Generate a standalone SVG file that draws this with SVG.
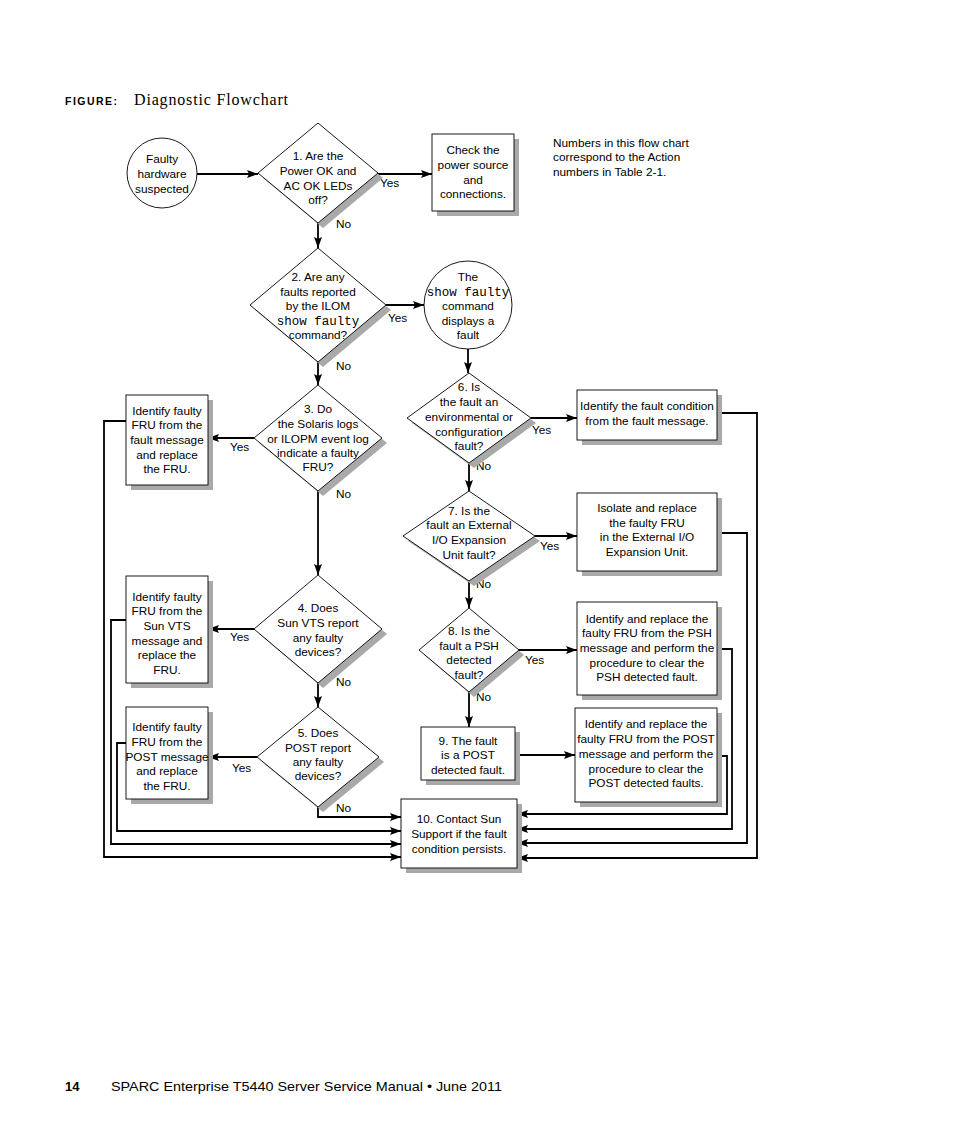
<svg xmlns="http://www.w3.org/2000/svg" width="954" height="1145" viewBox="0 0 954 1145">
<style>
.bg{fill:#fff}
.n{fill:#fff;stroke:#000;stroke-width:0.9}
.sh{fill:#a9a9a9}
.t{font-family:"Liberation Sans",Arial,sans-serif;font-size:11.8px;text-anchor:middle;fill:#000}
.m{font-family:"Liberation Mono","Courier New",monospace;font-size:12.5px}
.l{font-family:"Liberation Sans",Arial,sans-serif;font-size:11.8px;fill:#000}
.c{fill:none;stroke:#000;stroke-width:1.8}
</style>
<defs>
<marker id="ah" markerUnits="userSpaceOnUse" markerWidth="11" markerHeight="8" refX="11" refY="4" orient="auto">
<path d="M0,0 L11,4 L0,8 L2,4 z" fill="#000"/>
</marker>
</defs>
<rect class="bg" x="0" y="0" width="954" height="1145"/>

<g id="title">
<text x="65" y="105" font-family="'Liberation Sans',Arial,sans-serif" font-size="10.5" font-weight="bold" textLength="52" lengthAdjust="spacing">FIGURE:</text>
<text x="134" y="105" font-family="'Liberation Serif','Times New Roman',serif" font-size="16" textLength="154" lengthAdjust="spacing">Diagnostic Flowchart</text>
</g>

<g id="note">
<text class="l" x="553" y="147">Numbers in this flow chart</text>
<text class="l" x="553" y="161">correspond to the Action</text>
<text class="l" x="553" y="176">numbers in Table 2-1.</text>
</g>

<g id="connectors">
<path class="c" marker-end="url(#ah)" d="M197,174 H258"/>
<path class="c" marker-end="url(#ah)" d="M378,174 H432"/>
<path class="c" marker-end="url(#ah)" d="M318,223 V248"/>
<path class="c" marker-end="url(#ah)" d="M386,305 H424"/>
<path class="c" marker-end="url(#ah)" d="M318,362 V385"/>
<path class="c" marker-end="url(#ah)" d="M468,349 V373"/>
<path class="c" marker-end="url(#ah)" d="M254,438 H208"/>
<path class="c" marker-end="url(#ah)" d="M318,491 V575"/>
<path class="c" marker-end="url(#ah)" d="M254,629 H208"/>
<path class="c" marker-end="url(#ah)" d="M318,683 V707"/>
<path class="c" marker-end="url(#ah)" d="M257,757 H208"/>
<path class="c" marker-end="url(#ah)" d="M318,807 V817 H401"/>
<path class="c" marker-end="url(#ah)" d="M126,743 H117 V831 H401"/>
<path class="c" marker-end="url(#ah)" d="M126,620 H111 V844 H401"/>
<path class="c" marker-end="url(#ah)" d="M126,421 H104 V857 H401"/>
<path class="c" marker-end="url(#ah)" d="M531,418 H577"/>
<path class="c" marker-end="url(#ah)" d="M469,463 V491"/>
<path class="c" marker-end="url(#ah)" d="M535,536 H577"/>
<path class="c" marker-end="url(#ah)" d="M469,581 V608"/>
<path class="c" marker-end="url(#ah)" d="M519,650 H577"/>
<path class="c" marker-end="url(#ah)" d="M469,692 V727"/>
<path class="c" marker-end="url(#ah)" d="M515,755 H575"/>
<path class="c" marker-end="url(#ah)" d="M717,756 H727 V814 H517"/>
<path class="c" marker-end="url(#ah)" d="M717,649 H732 V829 H517"/>
<path class="c" marker-end="url(#ah)" d="M717,533 H747 V843 H517"/>
<path class="c" marker-end="url(#ah)" d="M717,413 H757 V858 H517"/>
</g>

<g id="labels">
<text class="l" x="380" y="187">Yes</text>
<text class="l" x="336" y="228">No</text>
<text class="l" x="388" y="322">Yes</text>
<text class="l" x="336" y="370">No</text>
<text class="l" x="230" y="451">Yes</text>
<text class="l" x="336" y="498">No</text>
<text class="l" x="230" y="641">Yes</text>
<text class="l" x="336" y="686">No</text>
<text class="l" x="232" y="772">Yes</text>
<text class="l" x="336" y="812">No</text>
<text class="l" x="532" y="434">Yes</text>
<text class="l" x="476" y="470">No</text>
<text class="l" x="540" y="550">Yes</text>
<text class="l" x="476" y="588">No</text>
<text class="l" x="525" y="664">Yes</text>
<text class="l" x="476" y="701">No</text>
</g>

<g id="start">
<circle class="n" cx="162" cy="173" r="35"/>
<text class="t" x="162" y="162.5">Faulty</text>
<text class="t" x="162" y="177.5">hardware</text>
<text class="t" x="162" y="192.5">suspected</text>
</g>

<g id="d1">
<polygon class="sh" points="323,128 383,178 323,228 263,178"/>
<polygon class="n" points="318,123 378,173 318,223 258,173"/>
<text class="t" x="318" y="160">1. Are the</text>
<text class="t" x="318" y="175">Power OK and</text>
<text class="t" x="318" y="190">AC OK LEDs</text>
<text class="t" x="318" y="204">off?</text>
</g>

<g id="b1">
<rect class="sh" x="437" y="139" width="82" height="77"/>
<rect class="n" x="432" y="134" width="82" height="77"/>
<text class="t" x="473" y="154">Check the</text>
<text class="t" x="473" y="169">power source</text>
<text class="t" x="473" y="184">and</text>
<text class="t" x="473" y="198">connections.</text>
</g>

<g id="d2">
<polygon class="sh" points="323,253 391,310 323,367 255,310"/>
<polygon class="n" points="318,248 386,305 318,362 250,305"/>
<text class="t" x="318" y="281">2. Are any</text>
<text class="t" x="318" y="296">faults reported</text>
<text class="t" x="318" y="310">by the ILOM</text>
<text class="t m" x="318" y="325">show faulty</text>
<text class="t" x="318" y="339">command?</text>
</g>

<g id="c2">
<circle class="n" cx="468" cy="305" r="44"/>
<text class="t" x="468" y="281">The</text>
<text class="t m" x="468" y="296">show faulty</text>
<text class="t" x="468" y="310">command</text>
<text class="t" x="468" y="325">displays a</text>
<text class="t" x="468" y="339">fault</text>
</g>

<g id="d3">
<polygon class="sh" points="323,390 387,443 323,496 259,443"/>
<polygon class="n" points="318,385 382,438 318,491 254,438"/>
<text class="t" x="318" y="413">3. Do</text>
<text class="t" x="318" y="428">the Solaris logs</text>
<text class="t" x="318" y="443">or ILOPM event log</text>
<text class="t" x="318" y="457">indicate a faulty</text>
<text class="t" x="318" y="471">FRU?</text>
</g>

<g id="b3">
<rect class="sh" x="131" y="400" width="82" height="90"/>
<rect class="n" x="126" y="395" width="82" height="90"/>
<text class="t" x="167" y="415">Identify faulty</text>
<text class="t" x="167" y="429">FRU from the</text>
<text class="t" x="167" y="444">fault message</text>
<text class="t" x="167" y="459">and replace</text>
<text class="t" x="167" y="473">the FRU.</text>
</g>

<g id="d6">
<polygon class="sh" points="474,378 536,423 474,468 412,423"/>
<polygon class="n" points="469,373 531,418 469,463 407,418"/>
<text class="t" x="469" y="391">6. Is</text>
<text class="t" x="469" y="406">the fault an</text>
<text class="t" x="469" y="421">environmental or</text>
<text class="t" x="469" y="436">configuration</text>
<text class="t" x="469" y="450">fault?</text>
</g>

<g id="b6">
<rect class="sh" x="582" y="395" width="140" height="50"/>
<rect class="n" x="577" y="390" width="140" height="50"/>
<text class="t" x="647" y="410">Identify the fault condition</text>
<text class="t" x="647" y="425">from the fault message.</text>
</g>

<g id="d7">
<polygon class="sh" points="474,496 540,541 474,586 408,541"/>
<polygon class="n" points="469,491 535,536 469,581 403,536"/>
<text class="t" x="469" y="515">7. Is the</text>
<text class="t" x="469" y="529">fault an External</text>
<text class="t" x="469" y="544">I/O Expansion</text>
<text class="t" x="469" y="559">Unit fault?</text>
</g>

<g id="b7">
<rect class="sh" x="582" y="498" width="140" height="78"/>
<rect class="n" x="577" y="493" width="140" height="78"/>
<text class="t" x="647" y="512">Isolate and replace</text>
<text class="t" x="647" y="527">the faulty FRU</text>
<text class="t" x="647" y="541">in the External I/O</text>
<text class="t" x="647" y="556">Expansion Unit.</text>
</g>

<g id="d4">
<polygon class="sh" points="323,580 387,634 323,688 259,634"/>
<polygon class="n" points="318,575 382,629 318,683 254,629"/>
<text class="t" x="318" y="612">4. Does</text>
<text class="t" x="318" y="627">Sun VTS report</text>
<text class="t" x="318" y="642">any faulty</text>
<text class="t" x="318" y="656">devices?</text>
</g>

<g id="b4">
<rect class="sh" x="131" y="581" width="82" height="107"/>
<rect class="n" x="126" y="576" width="82" height="107"/>
<text class="t" x="167" y="601">Identify faulty</text>
<text class="t" x="167" y="615">FRU from the</text>
<text class="t" x="167" y="630">Sun VTS</text>
<text class="t" x="167" y="645">message and</text>
<text class="t" x="167" y="659">replace the</text>
<text class="t" x="167" y="674">FRU.</text>
</g>

<g id="d8">
<polygon class="sh" points="474,613 524,655 474,697 424,655"/>
<polygon class="n" points="469,608 519,650 469,692 419,650"/>
<text class="t" x="469" y="635">8. Is the</text>
<text class="t" x="469" y="650">fault a PSH</text>
<text class="t" x="469" y="664">detected</text>
<text class="t" x="469" y="679">fault?</text>
</g>

<g id="b8">
<rect class="sh" x="582" y="607" width="140" height="93"/>
<rect class="n" x="577" y="602" width="140" height="93"/>
<text class="t" x="647" y="623">Identify and replace the</text>
<text class="t" x="647" y="637">faulty FRU from the PSH</text>
<text class="t" x="647" y="652">message and perform the</text>
<text class="t" x="647" y="667">procedure to clear the</text>
<text class="t" x="647" y="681">PSH detected fault.</text>
</g>

<g id="d5">
<polygon class="sh" points="323,712 384,762 323,812 262,762"/>
<polygon class="n" points="318,707 379,757 318,807 257,757"/>
<text class="t" x="318" y="737">5. Does</text>
<text class="t" x="318" y="752">POST report</text>
<text class="t" x="318" y="766">any faulty</text>
<text class="t" x="318" y="780">devices?</text>
</g>

<g id="b5">
<rect class="sh" x="131" y="712" width="82" height="92"/>
<rect class="n" x="126" y="707" width="82" height="92"/>
<text class="t" x="167" y="731">Identify faulty</text>
<text class="t" x="167" y="746">FRU from the</text>
<text class="t" x="167" y="761">POST message</text>
<text class="t" x="167" y="775">and replace</text>
<text class="t" x="167" y="790">the FRU.</text>
</g>

<g id="b9">
<rect class="sh" x="426" y="732" width="94" height="53"/>
<rect class="n" x="421" y="727" width="94" height="53"/>
<text class="t" x="468" y="745">9. The fault</text>
<text class="t" x="468" y="759">is a POST</text>
<text class="t" x="468" y="774">detected fault.</text>
</g>

<g id="bpost">
<rect class="sh" x="580" y="713" width="142" height="94"/>
<rect class="n" x="575" y="708" width="142" height="94"/>
<text class="t" x="646" y="728">Identify and replace the</text>
<text class="t" x="646" y="743">faulty FRU from the POST</text>
<text class="t" x="646" y="758">message and perform the</text>
<text class="t" x="646" y="773">procedure to clear the</text>
<text class="t" x="646" y="787">POST detected faults.</text>
</g>

<g id="b10">
<rect class="sh" x="406" y="804" width="116" height="69"/>
<rect class="n" x="401" y="799" width="116" height="69"/>
<text class="t" x="459" y="823">10. Contact Sun</text>
<text class="t" x="459" y="838">Support if the fault</text>
<text class="t" x="459" y="853">condition persists.</text>
</g>

<g id="footer">
<text x="65" y="1091" font-family="'Liberation Sans',Arial,sans-serif" font-size="13" font-weight="bold">14</text>
<text x="111" y="1091" font-family="'Liberation Sans',Arial,sans-serif" font-size="13" textLength="391" lengthAdjust="spacingAndGlyphs">SPARC Enterprise T5440 Server Service Manual  •  June 2011</text>
</g>
</svg>
